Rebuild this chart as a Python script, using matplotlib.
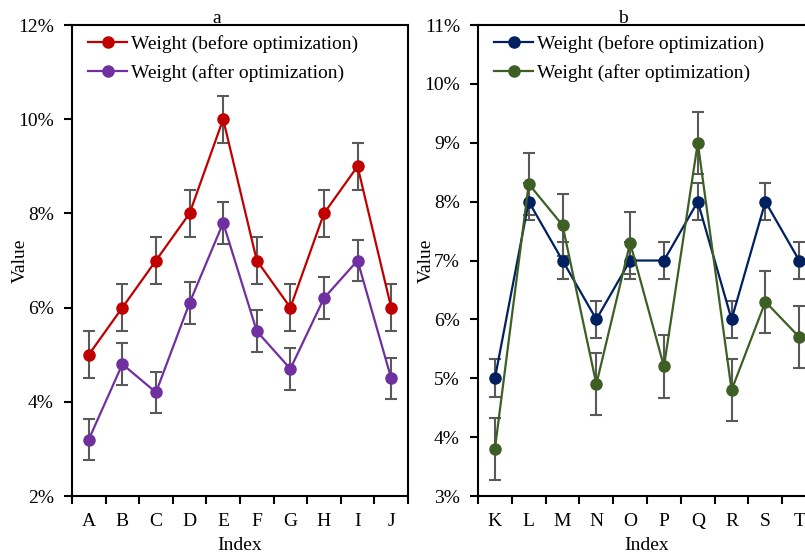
import numpy as np
import matplotlib
matplotlib.use('Agg')
import matplotlib.pyplot as plt
from matplotlib.ticker import FuncFormatter, MultipleLocator

plt.rcParams['font.family'] = ['Liberation Serif', 'DejaVu Serif']
plt.rcParams['font.size'] = 14

# panel a
labels_a = ['A', 'B', 'C', 'D', 'E', 'F', 'G', 'H', 'I', 'J']
before_a = [5.0, 6.0, 7.0, 8.0, 10.0, 7.0, 6.0, 8.0, 9.0, 6.0]
after_a = [3.2, 4.8, 4.2, 6.1, 7.8, 5.5, 4.7, 6.2, 7.0, 4.5]
err_before_a = 0.5
err_after_a = 0.44

# panel b
labels_b = ['K', 'L', 'M', 'N', 'O', 'P', 'Q', 'R', 'S', 'T']
before_b = [5.0, 8.0, 7.0, 6.0, 7.0, 7.0, 8.0, 6.0, 8.0, 7.0]
after_b = [3.8, 8.3, 7.6, 4.9, 7.3, 5.2, 9.0, 4.8, 6.3, 5.7]
err_before_b = 0.32
err_after_b = 0.53

err_color = '#595959'


def draw_panel(ax, labels, before, after, eb, ea, c1, c2, ylim, ystep, title):
    x = np.arange(len(labels))
    for vals, err, col, lab in [(before, eb, c1, 'Weight (before optimization)'),
                                (after, ea, c2, 'Weight (after optimization)')]:
        ax.errorbar(x, vals, yerr=err, fmt='none', ecolor=err_color,
                    elinewidth=1.5, capsize=4, capthick=1.5, zorder=2)
        ax.plot(x, vals, color=col, lw=1.6, marker='o', ms=8,
                label=lab, zorder=3)

    ax.set_xlim(-0.5, len(labels) - 0.5)
    ax.set_ylim(*ylim)
    ax.set_xticks(x)
    ax.set_xticklabels(labels)
    ax.set_xticks(np.arange(-0.5, len(labels)), minor=True)
    ax.tick_params(axis='x', which='major', length=0, pad=12)
    ax.tick_params(axis='x', which='minor', length=6, width=1.5, direction='out')
    ax.yaxis.set_major_locator(MultipleLocator(ystep))
    ax.yaxis.set_major_formatter(FuncFormatter(lambda v, p: '%d%%' % round(v)))
    ax.tick_params(axis='y', length=6, width=1.5, direction='out', pad=7)
    for s in ax.spines.values():
        s.set_linewidth(1.5)
    ax.set_xlabel('Index', labelpad=5)
    ax.set_ylabel('Value')
    ax.yaxis.set_label_coords(-0.128, 0.5)
    ax.text(0.43, 1.004, title, transform=ax.transAxes, ha='center',
            va='baseline', fontsize=14)
    ax.legend(loc='upper left', bbox_to_anchor=(0.014, 1.004), frameon=False,
              borderpad=0.1, handlelength=2.0, handletextpad=0.2,
              labelspacing=0.6, fontsize=14)


fig = plt.figure(figsize=(8.05, 5.52), dpi=100)
ax1 = fig.add_axes([0.0894, 0.1014, 0.4174, 0.8533])
ax2 = fig.add_axes([0.5938, 0.1014, 0.42, 0.8533])

draw_panel(ax1, labels_a, before_a, after_a, err_before_a, err_after_a,
           '#C00000', '#7030A0', (2, 12), 2, 'a')
draw_panel(ax2, labels_b, before_b, after_b, err_before_b, err_after_b,
           '#002060', '#3E5F24', (3, 11), 1, 'b')

fig.savefig('out.png', dpi=100)
